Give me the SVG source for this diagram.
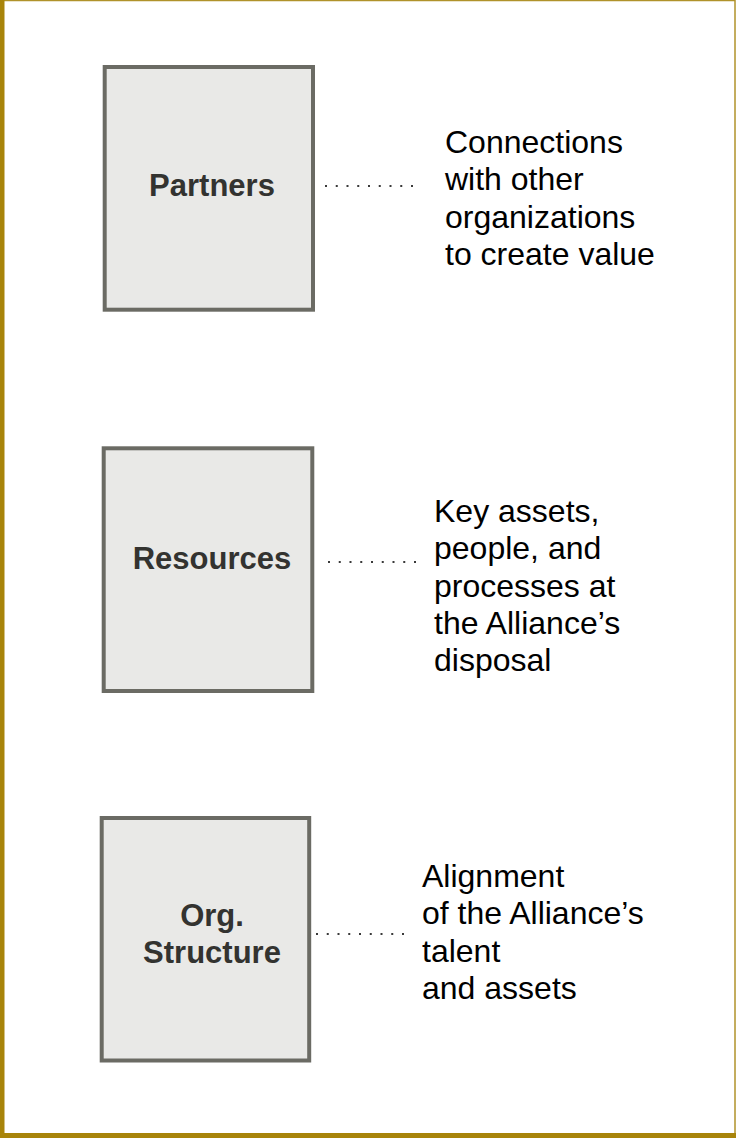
<svg xmlns="http://www.w3.org/2000/svg" width="736" height="1138" viewBox="0 0 736 1138">
<style>
.box{fill:#E9E9E7;stroke:#6B6B64;stroke-width:4}
.lbl{font-family:"Liberation Sans",Arial,sans-serif;font-weight:bold;font-size:31px;fill:#333330;text-anchor:middle}
.desc{font-family:"Liberation Sans",Arial,sans-serif;font-size:32px;fill:#000}
.dots{stroke:#3a3a3a;stroke-width:2;stroke-dasharray:2 8.75;fill:none}
</style>
<g id="frame">
<rect x="0.5" y="0.5" width="734.5" height="1135" fill="#fff" stroke="#B0922A" stroke-width="1.5"/>
<rect x="0" y="0" width="4.5" height="1138" fill="#A8840A"/>
<rect x="0" y="1133" width="736" height="5" fill="#A8840A"/>
</g>
<g id="partners">
<rect class="box" x="104.7" y="67" width="208.3" height="242.7"/>
<text class="lbl" x="212" y="196">Partners</text>
</g>
<g id="resources">
<rect class="box" x="103.7" y="448.3" width="208.6" height="242.7"/>
<text class="lbl" x="212" y="569">Resources</text>
</g>
<g id="org-structure">
<rect class="box" x="101.7" y="818" width="207.5" height="242.5"/>
<text class="lbl" x="212" y="926">Org.</text>
<text class="lbl" x="212" y="963">Structure</text>
</g>
<g id="desc-partners">
<text class="desc" x="445" y="153">Connections</text>
<text class="desc" x="445" y="190.3">with other</text>
<text class="desc" x="445" y="227.6">organizations</text>
<text class="desc" x="445" y="265">to create value</text>
</g>
<g id="desc-resources">
<text class="desc" x="434" y="522">Key assets,</text>
<text class="desc" x="434" y="559.3">people, and</text>
<text class="desc" x="434" y="596.6">processes at</text>
<text class="desc" x="434" y="634">the Alliance’s</text>
<text class="desc" x="434" y="671.3">disposal</text>
</g>
<g id="desc-org">
<text class="desc" x="422" y="887">Alignment</text>
<text class="desc" x="422" y="924.3">of the Alliance’s</text>
<text class="desc" x="422" y="961.6">talent</text>
<text class="desc" x="422" y="999">and assets</text>
</g>
<g id="connectors">
<line class="dots" x1="325" y1="186" x2="416" y2="186"/>
<line class="dots" x1="328" y1="562" x2="419" y2="562"/>
<line class="dots" x1="316" y1="934" x2="407" y2="934"/>
</g>
</svg>
